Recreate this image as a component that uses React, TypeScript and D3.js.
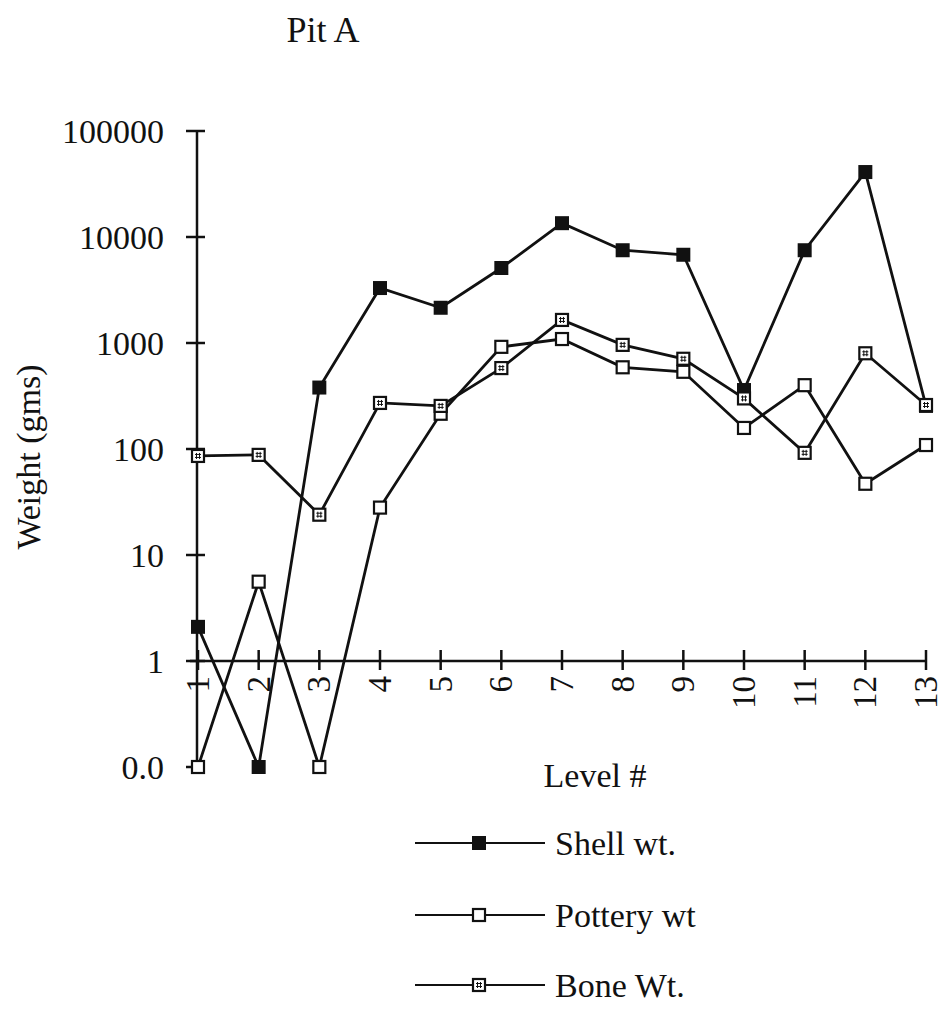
import React from 'react';
import * as d3 from 'd3';

const levels = ['1', '2', '3', '4', '5', '6', '7', '8', '9', '10', '11', '12', '13'];
// zero weights are plotted on the "0.0" floor of the log axis
const shellWt = [2.1, 0, 380, 3300, 2150, 5100, 13500, 7500, 6800, 360, 7500, 41000, 255];
const potteryWt = [0, 5.6, 0, 28, 215, 920, 1090, 590, 535, 158, 400, 47, 109];
const boneWt = [86, 88, 24, 272, 255, 580, 1650, 960, 710, 300, 92, 800, 260];
const yTicks = [0.1, 1, 10, 100, 1000, 10000, 100000];
const yTickLabels = ['0.0', '1', '10', '100', '1000', '10000', '100000'];
const seriesNames = ['Shell wt.', 'Pottery wt', 'Bone Wt.'];

const W = 941, H = 1009;
const FONT = '"Liberation Serif", "Times New Roman", serif';

function Marker({ x, y, kind }: { x: number; y: number; kind: number }) {
  const s = 14;
  if (kind === 0) return <rect x={x - s / 2} y={y - s / 2} width={s} height={s} fill="#111" />;
  return (
    <g>
      <rect x={x - s / 2 + 1} y={y - s / 2 + 1} width={s - 2} height={s - 2} fill="#fff" stroke="#111" strokeWidth={2.2} />
      {kind === 2 && (
        <path
          d={`M${x - 3},${y - 1.5}H${x + 3}M${x - 3},${y + 1.5}H${x + 3}M${x - 1.5},${y - 3}V${y + 3}M${x + 1.5},${y - 3}V${y + 3}`}
          stroke="#111" strokeWidth={1} fill="none"
        />
      )}
    </g>
  );
}

export default function App() {
  const x = d3.scalePoint<string>().domain(levels).range([198, 926]);
  const y = d3.scaleLog().domain([0.1, 100000]).range([767, 131]);
  const val = (v: number) => y(Math.max(v, 0.1));
  const series = [shellWt, potteryWt, boneWt];
  const line = d3.line<number>().x((_, i) => x(levels[i])!).y(d => val(d));
  const axisX = 197;
  const axisY = y(1);

  return (
    <svg width={W} height={H} style={{ position: 'absolute', left: 0, top: 0, background: '#fff' }} fontFamily={FONT}>
      <text x={323} y={42} fontSize={36} textAnchor="middle" fill="#111">Pit A</text>

      {/* y axis */}
      <line x1={axisX} x2={axisX} y1={y(100000)} y2={y(0.1)} stroke="#111" strokeWidth={2.5} />
      {yTicks.map((t, i) => (
        <g key={t}>
          <line x1={axisX - 11} x2={axisX + 8} y1={y(t)} y2={y(t)} stroke="#111" strokeWidth={2.5} />
          <text x={164} y={y(t)} dy="0.35em" fontSize={34} textAnchor="end" fill="#111">{yTickLabels[i]}</text>
        </g>
      ))}
      <text transform={`translate(40,${(y(100000) + y(0.1)) / 2 + 8}) rotate(-90)`} fontSize={34} textAnchor="middle" fill="#111">Weight (gms)</text>

      {/* x axis on value 1 */}
      <line x1={190} x2={926} y1={axisY} y2={axisY} stroke="#111" strokeWidth={2.5} />
      {levels.map(l => (
        <g key={l}>
          <line x1={x(l)} x2={x(l)} y1={axisY - 11} y2={axisY + 9} stroke="#111" strokeWidth={2.5} />
          <text transform={`translate(${x(l)! + 11},${axisY + 15}) rotate(-90)`} fontSize={33} textAnchor="end" fill="#111">{l}</text>
        </g>
      ))}
      <text x={595} y={787} fontSize={34} textAnchor="middle" fill="#111">Level #</text>

      {/* series */}
      {series.map((s, k) => (
        <path key={k} d={line(s)!} fill="none" stroke="#111" strokeWidth={2.8} />
      ))}
      {[0, 1, 2].map(k =>
        series[k].map((v, i) => <Marker key={`${k}-${i}`} x={x(levels[i])!} y={val(v)} kind={k} />)
      )}

      {/* legend */}
      {seriesNames.map((n, k) => {
        const ly = [843, 915, 985][k];
        return (
          <g key={n}>
            <line x1={415} x2={545} y1={ly} y2={ly} stroke="#111" strokeWidth={2.2} />
            <Marker x={479} y={ly} kind={k} />
            <text x={555} y={ly} dy="0.35em" fontSize={34} fill="#111">{n}</text>
          </g>
        );
      })}
    </svg>
  );
}
